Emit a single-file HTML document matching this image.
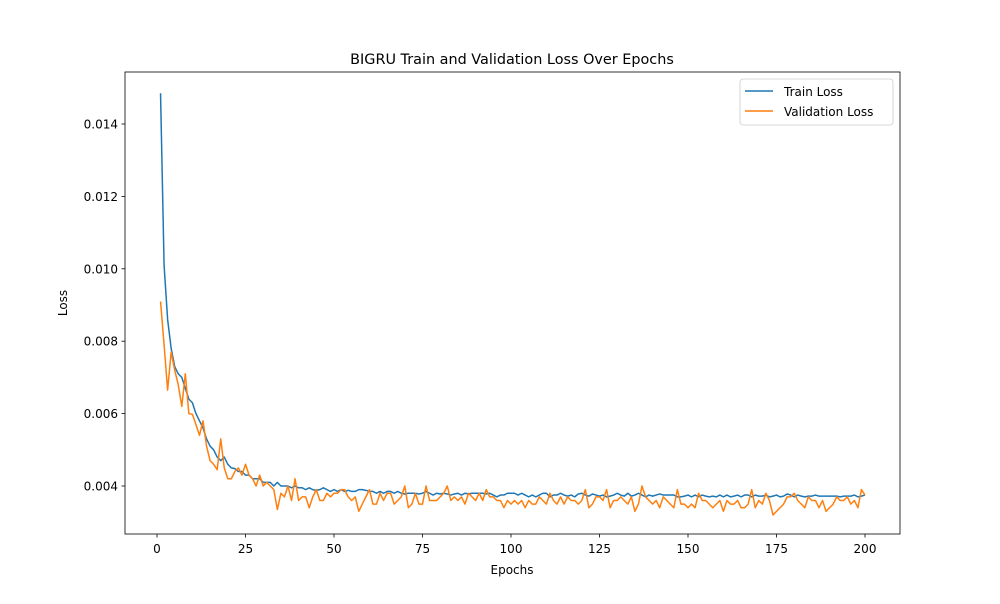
<!DOCTYPE html>
<html><head><meta charset="utf-8"><style>
body{margin:0;background:#fff;font-family:"DejaVu Sans","Liberation Sans",sans-serif}
svg text{font-family:"DejaVu Sans","Liberation Sans",sans-serif;fill:#000}
</style></head><body>
<svg id="chart" width="1000" height="600" viewBox="0 0 1000 600" xmlns="http://www.w3.org/2000/svg">
<defs><clipPath id="clip"><rect x="125" y="72" width="775" height="462"/></clipPath></defs>
<rect width="1000" height="600" fill="#fff"/>
<text x="512" y="64" font-size="14.4" text-anchor="middle">BIGRU Train and Validation Loss Over Epochs</text>
<g id="plot" clip-path="url(#clip)"></g>
<rect x="125" y="72" width="775" height="462" fill="none" stroke="#000" stroke-width="0.8"/>
<g id="xt"></g><g id="yt"></g>
<text x="512" y="574" font-size="12" text-anchor="middle">Epochs</text>
<text transform="translate(67,303) rotate(-90)" font-size="12" text-anchor="middle">Loss</text>
<g>
<rect x="740" y="79" width="153" height="46" rx="3" fill="#fff" stroke="#ccc" stroke-width="0.8"/>
<line x1="745" y1="91" x2="773" y2="91" stroke="#1f77b4" stroke-width="1.5"/>
<text x="784" y="96" font-size="12">Train Loss</text>
<line x1="745" y1="111" x2="773" y2="111" stroke="#ff7f0e" stroke-width="1.5"/>
<text x="784" y="116" font-size="12">Validation Loss</text>
</g>
</svg>
<script>
const trainHead=[0.01485,0.0101,0.0086,0.0078,0.0073,0.0071,0.0070,0.0067,0.0064,0.0063,0.0060,0.0058,0.0056,0.0053,0.0051,0.0050,0.0048,0.0047,0.0048,0.0046,0.0045,0.00448,0.0044,0.0044,0.0043,0.0043,0.0042,0.0042,0.0042,0.0041,0.0041,0.0041,0.0040,0.0041,0.0040,0.0040,0.0040,0.00395,0.0040,0.00395];
const trainTail=[0.00395,0.0039,0.00395,0.0039,0.00388,0.0039,0.00395,0.0039,0.00385,0.0039,0.00385,0.0039,0.00385,0.00388,0.00385,0.00385,0.0039,0.0039,0.00388,0.00385,0.00385,0.0038,0.00385,0.0038,0.00385,0.00385,0.0038,0.00385,0.0038,0.00378,0.0038,0.0038,0.0038,0.00378,0.0038,0.00385,0.0038,0.00375,0.0038,0.00378,0.0038,0.00378,0.00375,0.00378,0.0038,0.00375,0.0038,0.00378,0.0038,0.0038,0.0038,0.0038,0.00378,0.0038,0.00375,0.0037,0.00375,0.00375,0.0038,0.0038,0.0038,0.00375,0.0038,0.00375,0.0037,0.00375,0.0037,0.00375,0.0038,0.0038,0.0037,0.00375,0.00375,0.0038,0.00375,0.00372,0.00375,0.0037,0.00378,0.0038,0.00375,0.00372,0.00378,0.00375,0.00372,0.00375,0.0037,0.00372,0.00375,0.0038,0.00375,0.00372,0.0038,0.00372,0.00375,0.0038,0.00375,0.0037,0.00375,0.00372,0.00375,0.00378,0.00375,0.00375,0.00375,0.00375,0.0037,0.0037,0.00372,0.00375,0.0037,0.00375,0.0037,0.00375,0.00372,0.0037,0.00372,0.0037,0.00375,0.0037,0.00375,0.0037,0.00372,0.00375,0.0037,0.00375,0.00375,0.0037,0.00375,0.00372,0.00372,0.00375,0.0037,0.00372,0.00375,0.0037,0.00372,0.00378,0.00375,0.0037,0.00375,0.00372,0.0037,0.00372,0.00372,0.00375,0.00372,0.00372,0.00372,0.00372,0.00372,0.00372,0.0037,0.00372,0.00372,0.00372,0.00375,0.0037,0.00372,0.00375,0.00372,0.0037,0.00372,0.00372,0.00372];
const valHead=[0.0091,0.0079,0.00665,0.0077,0.0072,0.0068,0.0062,0.0071,0.0060,0.00598,0.0057,0.0054,0.0058,0.0051,0.0047,0.0046,0.00445,0.0053,0.0045,0.0042,0.0042,0.0044,0.0045,0.0043,0.0046,0.0043,0.0042,0.0040,0.0043,0.0040,0.0041,0.0040,0.0039,0.00335,0.0038,0.0037,0.0040,0.0036,0.0042,0.0036];
const valTail=[0.0037,0.0037,0.0034,0.0037,0.0039,0.0036,0.0036,0.0038,0.0037,0.0038,0.0038,0.0039,0.0039,0.0037,0.0036,0.0037,0.0033,0.0035,0.0037,0.0039,0.0035,0.0035,0.0038,0.0036,0.0038,0.0038,0.0035,0.0036,0.0037,0.004,0.0034,0.0035,0.0038,0.0035,0.0035,0.0040,0.0036,0.0036,0.0036,0.0037,0.0038,0.0040,0.0036,0.0037,0.0036,0.0037,0.0035,0.0038,0.0037,0.0036,0.0038,0.0036,0.0039,0.0037,0.0037,0.0036,0.0036,0.0034,0.0036,0.0035,0.0036,0.0035,0.0036,0.0034,0.0036,0.0035,0.0035,0.0037,0.0036,0.0035,0.0038,0.0036,0.0035,0.0037,0.0035,0.0037,0.0036,0.0036,0.0035,0.0036,0.0039,0.0034,0.0035,0.0037,0.0037,0.0036,0.0039,0.0034,0.0036,0.0036,0.0037,0.0036,0.0035,0.0037,0.0033,0.0035,0.0040,0.0037,0.0036,0.0035,0.0036,0.0034,0.0037,0.0036,0.0035,0.0034,0.0039,0.0035,0.0035,0.0034,0.0035,0.0034,0.0038,0.0036,0.0036,0.0035,0.0034,0.0035,0.0036,0.0033,0.0036,0.0035,0.0035,0.0036,0.0034,0.0034,0.0035,0.0039,0.0034,0.0036,0.0035,0.0038,0.0036,0.0032,0.0033,0.0034,0.0035,0.0037,0.0037,0.0038,0.0036,0.0035,0.0034,0.0037,0.0036,0.0036,0.0034,0.0036,0.0033,0.0034,0.0035,0.0037,0.0036,0.0036,0.0037,0.0035,0.0036,0.0034,0.0038,0.0035];
const valEnd=[0.0039,0.00375];
const trainLoss=trainHead.concat(trainTail).slice(0,200);
const valLoss=valHead.concat(valTail.slice(0,158)).concat(valEnd);
const xTicks=[0,25,50,75,100,125,150,175,200];
const yTicks=[0.004,0.006,0.008,0.010,0.012,0.014];
const NS='http://www.w3.org/2000/svg';
function xs(v){return 157+v*(865-157)/200;}
function ys(v){return 486-(v-0.004)*(486-124)/0.010;}
const plot=document.getElementById('plot');
function line(arr,color,name){
  const p=document.createElementNS(NS,'polyline');
  
  
  p.setAttribute('points',arr.map((v,i)=>xs(i+1).toFixed(2)+','+ys(v).toFixed(2)).join(' '));
  p.setAttribute('fill','none');p.setAttribute('stroke',color);p.setAttribute('stroke-width','1.5');
  p.setAttribute('stroke-linejoin','round');
  plot.appendChild(p);
}
line(trainLoss,'#1f77b4','train-loss-line');
line(valLoss,'#ff7f0e','validation-loss-line');
const xt=document.getElementById('xt');
xTicks.forEach(t=>{
  const x=xs(t);
  const l=document.createElementNS(NS,'line');
  
  
  l.setAttribute('x1',x);l.setAttribute('x2',x);l.setAttribute('y1',534);l.setAttribute('y2',537.5);l.setAttribute('stroke','#000');l.setAttribute('stroke-width','0.8');
  xt.appendChild(l);
  const tx=document.createElementNS(NS,'text');
  
  
  tx.setAttribute('x',x);tx.setAttribute('y',553);tx.setAttribute('font-size','12');tx.setAttribute('text-anchor','middle');
  tx.textContent=t;xt.appendChild(tx);
});
const yt=document.getElementById('yt');
yTicks.forEach(t=>{
  const y=ys(t);
  const l=document.createElementNS(NS,'line');
  
  
  l.setAttribute('x1',121.5);l.setAttribute('x2',125);l.setAttribute('y1',y);l.setAttribute('y2',y);l.setAttribute('stroke','#000');l.setAttribute('stroke-width','0.8');
  yt.appendChild(l);
  const tx=document.createElementNS(NS,'text');
  
  
  tx.setAttribute('x',118);tx.setAttribute('y',y+4.5);tx.setAttribute('font-size','12');tx.setAttribute('text-anchor','end');
  tx.textContent=t.toFixed(3);yt.appendChild(tx);
});
</script>
</body></html>
